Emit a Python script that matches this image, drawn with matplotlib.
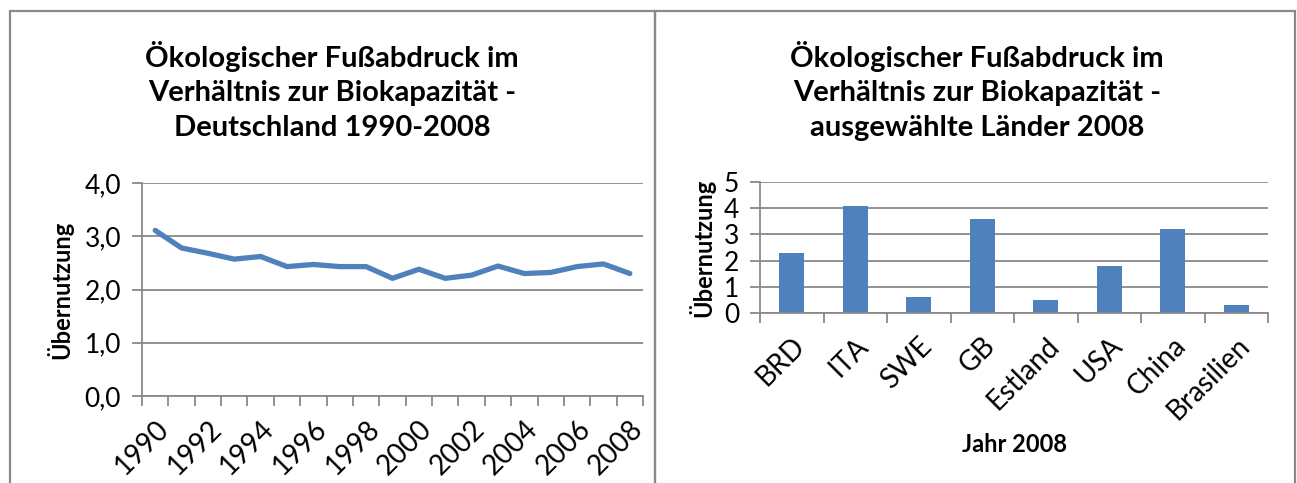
import numpy as np
import matplotlib
matplotlib.use("Agg")
import matplotlib.pyplot as plt
from matplotlib.patches import Rectangle

plt.rcParams['font.family'] = ['Lato', 'DejaVu Sans']

##
#    Data
##
years = list(range(1990, 2009))
de_values = [3.11, 2.78, 2.68, 2.57, 2.62, 2.43, 2.47, 2.43, 2.43, 2.21,
             2.38, 2.21, 2.27, 2.44, 2.30, 2.32, 2.43, 2.48, 2.30]
countries = ['BRD', 'ITA', 'SWE', 'GB', 'Estland', 'USA', 'China', 'Brasilien']
country_values = [2.3, 4.1, 0.6, 3.6, 0.5, 1.8, 3.2, 0.3]

left_title = 'Ökologischer Fußabdruck im\nVerhältnis zur Biokapazität -\nDeutschland 1990-2008'
right_title = 'Ökologischer Fußabdruck im\nVerhältnis zur Biokapazität -\nausgewählte Länder 2008'

blue = '#4F81BD'
gray = '#898989'
W, H = 1297, 483

fig = plt.figure(figsize=(W / 100, H / 100), dpi=100)

# chart frames
for x0, x1 in [(10, 655), (655, 1295)]:
    fig.patches.append(Rectangle((x0 / W, -0.1), (x1 - x0) / W, (H - 11) / H + 0.1,
                                 transform=fig.transFigure, fill=False,
                                 edgecolor=gray, linewidth=1.6))

def style_axes(ax):
    for s in ['top', 'right']:
        ax.spines[s].set_visible(False)
    for s in ['left', 'bottom']:
        ax.spines[s].set_color(gray)
        ax.spines[s].set_linewidth(1.3)
    ax.yaxis.grid(True, color=gray, linewidth=1.3)
    ax.set_axisbelow(True)
    ax.tick_params(axis='both', which='major', color=gray, width=1.3, length=7, direction='out')
    ax.tick_params(axis='y', labelsize=19, pad=8)

##
#    Left: line chart
##
ax1 = fig.add_axes([142 / W, 1 - 396 / H, (643 - 142) / W, 213 / H])
style_axes(ax1)
xpos = np.arange(len(years))
ax1.plot(xpos, de_values, color=blue, linewidth=3.8, solid_capstyle='round', solid_joinstyle='round')
ax1.set_xlim(-0.5, len(years) - 0.5)
ax1.set_ylim(0, 4)
ax1.set_yticks([0, 1, 2, 3, 4])
ax1.set_yticklabels([f'{v:.1f}'.replace('.', ',') for v in [0, 1, 2, 3, 4]])
ax1.set_xticks(np.arange(len(years) + 1) - 0.5)
ax1.set_xticklabels([])
ax1.set_xticks(xpos[::2], minor=True)
ax1.set_xticklabels([str(y) for y in years[::2]], minor=True, rotation=45,
                    ha='right', va='top', rotation_mode='anchor', fontsize=20)
ax1.tick_params(axis='x', which='minor', length=0, pad=14)
ax1.set_ylabel('Übernutzung', fontsize=17, fontweight='bold', labelpad=8)
fig.text(332 / W, 1 - 91 / H, left_title, ha='center', va='center',
         fontsize=21, fontweight='bold', linespacing=1.4)

##
#    Right: bar chart
##
ax2 = fig.add_axes([760 / W, 1 - 313 / H, (1268 - 760) / W, 131 / H])
style_axes(ax2)
cpos = np.arange(len(countries))
ax2.bar(cpos, country_values, width=0.4, color=blue)
ax2.set_xlim(-0.5, len(countries) - 0.5)
ax2.set_ylim(0, 5)
ax2.set_yticks(range(6))
ax2.set_xticks(np.arange(len(countries) + 1) - 0.5)
ax2.set_xticklabels([])
ax2.set_xticks(cpos, minor=True)
ax2.set_xticklabels(countries, minor=True, rotation=45, ha='right', va='top',
                    rotation_mode='anchor', fontsize=20)
ax2.tick_params(axis='x', which='minor', length=0, pad=14)
ax2.set_ylabel('Übernutzung', fontsize=17, fontweight='bold', labelpad=6)
ax2.set_xlabel('Jahr 2008', fontsize=17, fontweight='bold', labelpad=6)
fig.text(977 / W, 1 - 91 / H, right_title, ha='center', va='center',
         fontsize=21, fontweight='bold', linespacing=1.4)

plt.savefig('out.png', dpi=100)
